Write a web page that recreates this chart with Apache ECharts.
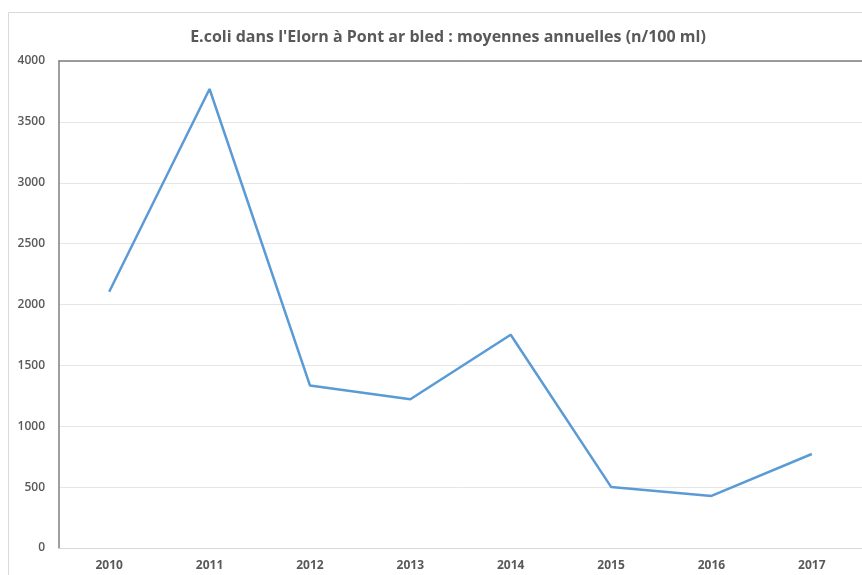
<!DOCTYPE html>
<html>
<head>
<meta charset="utf-8">
<script src="https://cdn.jsdelivr.net/npm/echarts@6/dist/echarts.min.js"></script>
<style>
  html, body { margin: 0; padding: 0; background: #ffffff; }
  #chart { width: 862px; height: 575px; }
</style>
</head>
<body>
<div id="chart"></div>
<script>
// Annual mean E. coli counts (n/100 ml) in the Elorn at Pont ar bled
const years = ['2010', '2011', '2012', '2013', '2014', '2015', '2016', '2017'];
const ecoliMeans = [2105, 3770, 1335, 1222, 1752, 502, 428, 772];
const yTicks = { min: 0, max: 4000, interval: 500 };

const chart = echarts.init(document.getElementById('chart'));
const labelFont = 'Open Sans, Liberation Sans, sans-serif';

chart.setOption({
  animation: false,
  backgroundColor: '#ffffff',
  title: {
    text: "E.coli dans l'Elorn à Pont ar bled : moyennes annuelles (n/100 ml)",
    left: 443,
    top: 24,
    textAlign: 'center',
    textStyle: {
      fontFamily: labelFont,
      fontSize: 16,
      fontWeight: 'bold',
      color: '#595959'
    }
  },
  graphic: [{
    type: 'rect',
    shape: { x: 8.5, y: 12.5, width: 900, height: 600 },
    style: { fill: 'none', stroke: '#d9d9d9', lineWidth: 1 },
    silent: true
  }],
  grid: { left: 59, right: 0, top: 61, bottom: 27 },
  xAxis: [{
    type: 'category',
    data: years,
    boundaryGap: true,
    axisLine: { show: true, lineStyle: { color: '#d9d9d9', width: 1 } },
    axisTick: { show: false },
    axisLabel: {
      margin: 12,
      fontFamily: labelFont,
      fontSize: 12,
      fontWeight: 'bold',
      color: '#595959'
    },
    splitLine: { show: false }
  }, {
    type: 'category',
    data: years,
    position: 'top',
    axisLine: { show: true, lineStyle: { color: '#7f7f7f', width: 1.5 } },
    axisTick: { show: false },
    axisLabel: { show: false }
  }],
  yAxis: {
    type: 'value',
    min: yTicks.min,
    max: yTicks.max,
    interval: yTicks.interval,
    axisLine: { show: true, lineStyle: { color: '#7f7f7f', width: 1.5 } },
    axisTick: { show: false },
    axisLabel: {
      margin: 14,
      fontFamily: labelFont,
      fontSize: 12,
      fontWeight: 600,
      color: '#595959',
      formatter: (v) => String(v)
    },
    splitLine: { show: true, lineStyle: { color: '#e6e6e6', width: 1 } }
  },
  series: [{
    type: 'line',
    data: ecoliMeans,
    xAxisIndex: 0,
    symbol: 'none',
    lineStyle: { color: '#5b9bd5', width: 2.5 },
    itemStyle: { color: '#5b9bd5' }
  }]
});
</script>
</body>
</html>
